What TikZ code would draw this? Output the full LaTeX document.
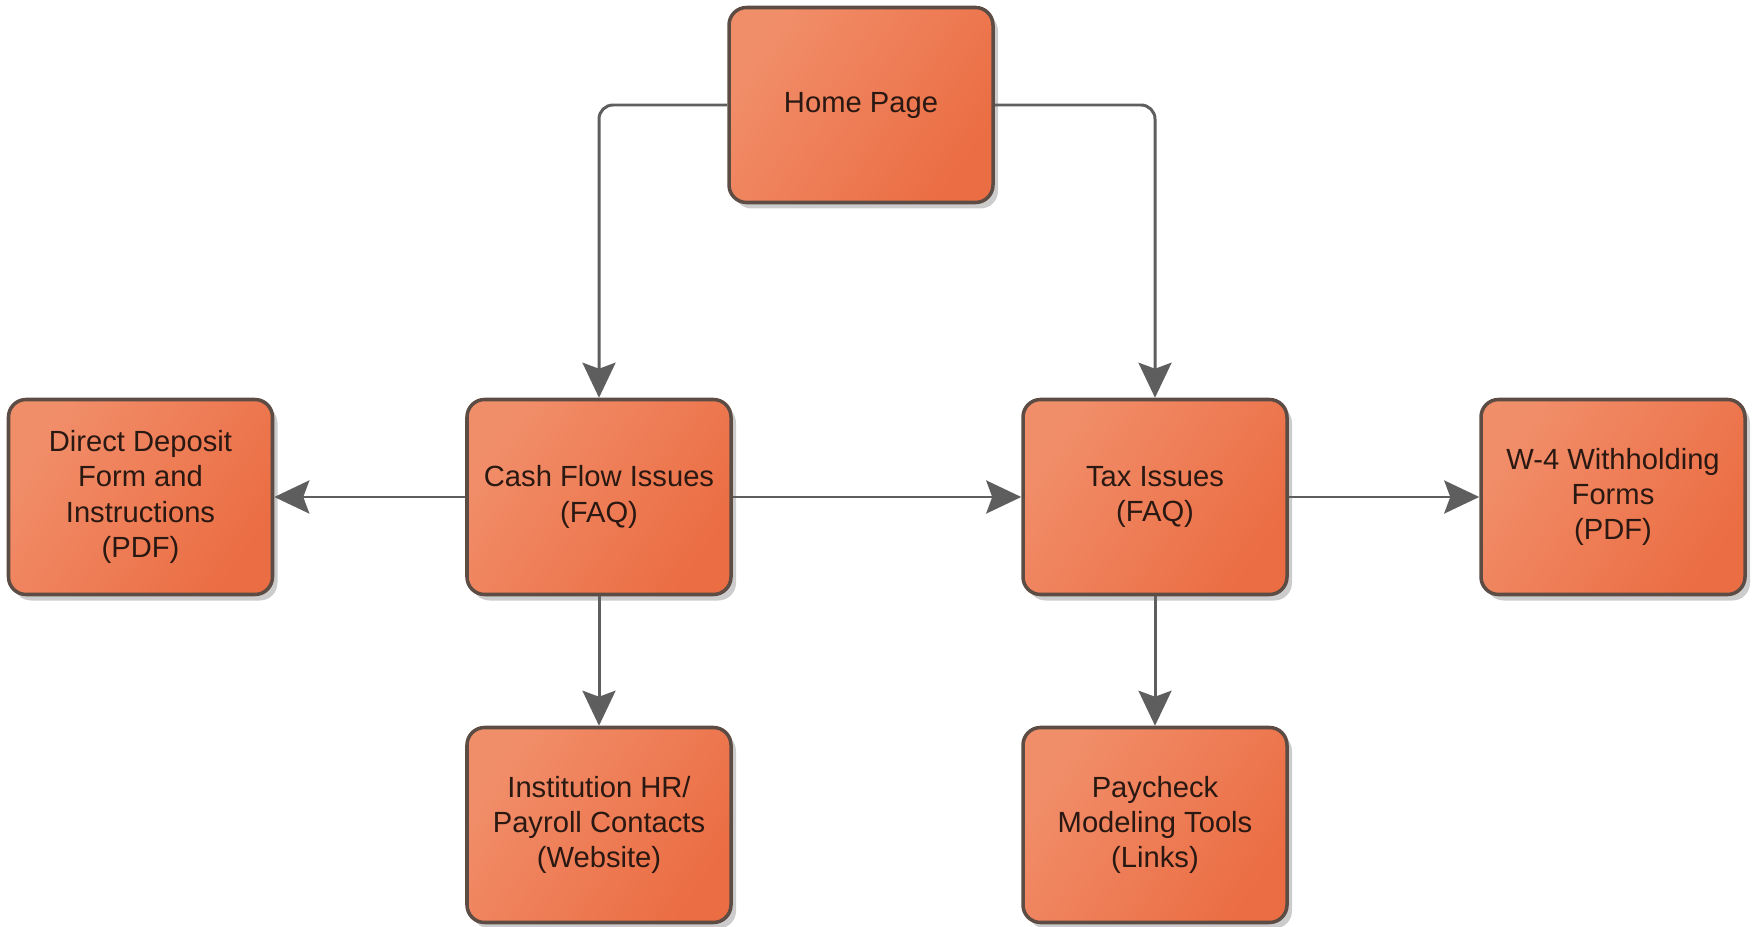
\documentclass[tikz,border=0pt]{standalone}
\usepackage{fontspec}
\setmainfont{Liberation Sans}
\usetikzlibrary{arrows.meta,shadows}

\definecolor{boxlight}{HTML}{F18E6A}
\definecolor{boxdark}{HTML}{EB6D43}
\definecolor{boxline}{HTML}{5C4C44}
\definecolor{txtcol}{HTML}{2A1812}
\definecolor{linkcol}{HTML}{5E5E5E}

\begin{document}
\begin{tikzpicture}[
  font=\fontsize{8.3}{10}\selectfont,
  page/.style={draw=boxline, line width=1pt, rounded corners=5pt,
               top color=boxlight, bottom color=boxdark, shading angle=55,
               drop shadow={shadow xshift=0.5mm, shadow yshift=-0.6mm,
                            fill=black!50, opacity=0.4},
               align=center, text=txtcol, inner sep=2pt,
               minimum width=26.4mm, minimum height=19.5mm},
  link/.style={draw=linkcol, line width=0.85pt, rounded corners=4pt,
               -{Stealth[length=3.5mm, width=3.3mm, inset=0.6mm]}}]

\useasboundingbox (0,0) rectangle (17.52,-9.27);

\node[page] (home)   at (8.61,-1.05)  {Home Page};
\node[page] (cash)   at (5.99,-4.97)  {Cash Flow Issues\\ (FAQ)};
\node[page] (tax)    at (11.55,-4.97) {Tax Issues\\ (FAQ)};
\node[page] (direct) at (1.405,-4.97) {Direct Deposit\\ Form and\\ Instructions\\ (PDF)};
\node[page] (w4)     at (16.13,-4.97) {W-4 Withholding\\ Forms\\ (PDF)};
\node[page] (inst)   at (5.99,-8.25)  {Institution HR/\\ Payroll Contacts\\ (Website)};
\node[page] (pay)    at (11.55,-8.25) {Paycheck\\ Modeling Tools\\ (Links)};

\draw[link] (home.west) -| (cash.north);
\draw[link] (home.east) -| (tax.north);
\draw[link] (cash) -- (direct);
\draw[link] (cash) -- (tax);
\draw[link] (tax) -- (w4);
\draw[link] (cash) -- (inst);
\draw[link] (tax) -- (pay);
\end{tikzpicture}
\end{document}
